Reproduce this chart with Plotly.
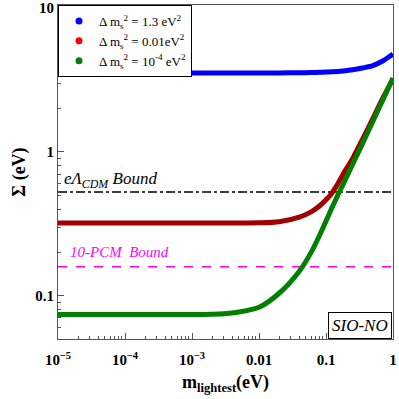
import math

import plotly.graph_objects as go

# lightest neutrino mass (eV)
m_lightest = [1e-5, 1e-4, 1e-3, 0.003, 0.005, 0.01, 0.02, 0.04, 0.06, 0.08, 0.1, 0.12, 0.15, 0.18, 0.25, 0.35, 0.5, 0.7, 1.0]

# sum of masses (eV)
sigma_13 = [3.54, 3.54, 3.54, 3.54, 3.54, 3.54, 3.54, 3.55, 3.56, 3.57, 3.585, 3.6, 3.62, 3.65, 3.72, 3.83, 3.98, 4.28, 4.79]
sigma_001 = [0.32, 0.32, 0.32, 0.32, 0.32, 0.321, 0.327, 0.352, 0.383, 0.42, 0.464, 0.51, 0.6, 0.7, 0.9, 1.22, 1.7, 2.35, 3.22]
sigma_1e4 = [0.074, 0.074, 0.074, 0.075, 0.077, 0.083, 0.104, 0.148, 0.2, 0.262, 0.33, 0.4, 0.5, 0.595, 0.82, 1.14, 1.63, 2.28, 3.26]

elcdm_bound = 0.527
pcm_bound = 0.159

x_tickvals = [1e-5, 1e-4, 1e-3, 0.01, 0.1, 1]
x_ticktext = ["<b>10<sup>−5</sup></b>", "<b>10<sup>−4</sup></b>", "<b>10<sup>−3</sup></b>",
              "<b>0.01</b>", "<b>0.1</b>", "<b>1</b>"]
y_tickvals = [0.1, 1, 10]
y_ticktext = ["<b>0.1</b>", "<b>1</b>", "<b>10</b>"]

SERIF = "Liberation Serif, DejaVu Serif, serif"


def minor_ticks(decades):
    return [k * 10.0 ** d for d in decades for k in range(2, 10)]


fig = go.Figure()

curves = [
    (sigma_13, "#0000ff", "#0000ff", "Δ m<sub>s</sub><sup>2</sup> = 1.3 eV<sup>2</sup>"),
    (sigma_001, "#a00000", "#ff0000", "Δ m<sub>s</sub><sup>2</sup> = 0.01eV<sup>2</sup>"),
    (sigma_1e4, "#008000", "#008000", "Δ m<sub>s</sub><sup>2</sup> = 10<sup>-4</sup> eV<sup>2</sup>"),
]

# bound lines
fig.add_trace(go.Scatter(x=[m_lightest[0], m_lightest[-1]], y=[elcdm_bound] * 2, mode="lines",
                         line={"color": "black", "width": 1.5, "dash": "dashdot"}, showlegend=False))
fig.add_trace(go.Scatter(x=[m_lightest[0], m_lightest[-1]], y=[pcm_bound] * 2, mode="lines",
                         line={"color": "#ff00ff", "width": 1.5, "dash": "dash"}, showlegend=False))

for ys, col, _, _ in curves:
    fig.add_trace(go.Scatter(x=m_lightest, y=ys, mode="lines",
                             line={"color": col, "width": 5, "shape": "spline", "smoothing": 0.8},
                             showlegend=False))

# legend entries shown as dots
for _, _, dot, name in curves:
    fig.add_trace(go.Scatter(x=[None], y=[None], mode="markers", marker={"color": dot, "size": 7}, name=name))

# annotations on log axes take log10 coordinates
fig.add_annotation(x=-4.94, y=math.log10(0.64), xref="x", yref="y", yanchor="middle", xanchor="left", showarrow=False,
                   text="<i>eΛ<sub>CDM</sub> Bound</i>", font={"family": SERIF, "size": 17, "color": "black"})
fig.add_annotation(x=-4.85, y=math.log10(0.2), xref="x", yref="y", yanchor="middle", xanchor="left", showarrow=False,
                   text="<i>10-PCM  Bound</i>", font={"family": SERIF, "size": 15, "color": "#ff00ff"})
fig.add_annotation(x=0.997, y=0.0, xref="paper", yref="paper", xanchor="right", yanchor="bottom", showarrow=False,
                   text="<i>SIO-NO</i>", font={"family": SERIF, "size": 17, "color": "black"},
                   bordercolor="black", borderwidth=1, borderpad=3, bgcolor="white")

axis_common = dict(
    showline=True, linecolor="#555555", linewidth=1, mirror=True,
    ticks="inside", ticklen=6, tickcolor="#555555",
    showgrid=False, zeroline=False, automargin=False,
    tickfont={"family": SERIF, "size": 15, "color": "black"},
)
minor_style = dict(ticks="inside", ticklen=3, tickcolor="#555555", showgrid=False)

fig.update_xaxes(type="log", range=[-5, 0], tickvals=x_tickvals, ticktext=x_ticktext, ticklabelstandoff=7,
                 minor=dict(tickvals=minor_ticks(range(-5, 0)), **minor_style),
                 title={"text": "<b>m<sub>lightest</sub>(eV)</b>", "font": {"family": SERIF, "size": 18, "color": "black"},
                        "standoff": 8},
                 **axis_common)
fig.update_yaxes(type="log", range=[-1.301, 1.021], tickvals=y_tickvals, ticktext=y_ticktext,
                 minor=dict(tickvals=minor_ticks(range(-2, 1)), **minor_style),
                 title={"text": "<b>Σ (eV)</b>", "font": {"family": SERIF, "size": 18, "color": "black"},
                        "standoff": 4},
                 **axis_common)

fig.update_layout(
    width=399, height=399,
    margin={"l": 58, "r": 6, "t": 5, "b": 60},
    plot_bgcolor="white", paper_bgcolor="white",
    font={"family": SERIF, "color": "black"},
    legend={"x": 0, "y": 1, "xanchor": "left", "yanchor": "top", "bgcolor": "white",
            "bordercolor": "black", "borderwidth": 1, "font": {"family": SERIF, "size": 13},
            "itemwidth": 30, "tracegroupgap": 0},
)

# drop the page's default body margin so the 399px figure fills the window
fig.write_html("out.html", config={"displayModeBar": False},
               post_script="document.body.style.margin='0';")
